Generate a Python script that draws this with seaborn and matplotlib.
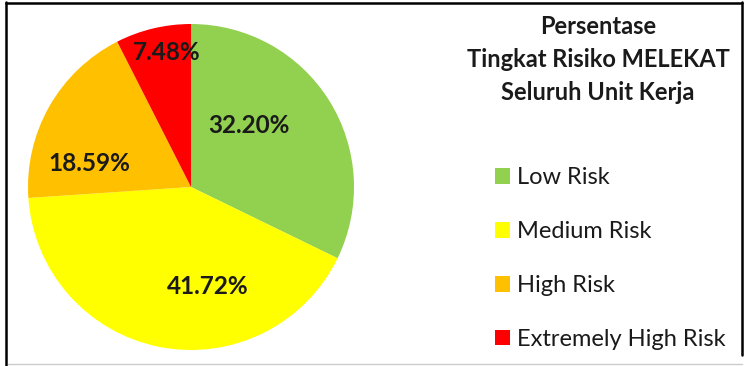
import matplotlib
matplotlib.use("Agg")
import matplotlib.pyplot as plt
import seaborn as sns
from matplotlib.lines import Line2D
from matplotlib.patches import Patch

categories = ["Low Risk", "Medium Risk", "High Risk", "Extremely High Risk"]
values = [32.20, 41.72, 18.59, 7.48]
colors = ["#92D050", "#FFFF00", "#FFC000", "#FF0000"]
title_lines = ["Persentase", "Tingkat Risiko MELEKAT", "Seluruh Unit Kerja"]

sns.set_theme(style="white")
plt.rcParams["font.family"] = ["Lato", "DejaVu Sans"]

fig = plt.figure(figsize=(7.46, 3.66), dpi=100)
fig.patch.set_facecolor("white")

# pie axes: centre (191,187) px, radius 163 px
W, H = 746, 366
cx, cy, r = 191, 187, 163
ax = fig.add_axes([(cx - r) / W, (H - cy - r) / H, 2 * r / W, 2 * r / H])

wedges, texts, autotexts = ax.pie(
    values, colors=colors, startangle=90, counterclock=False,
    autopct=lambda p: f"{p:.2f}%", pctdistance=0.6,
    wedgeprops=dict(linewidth=0),
    textprops=dict(fontsize=17.5, fontweight="bold", color="#1a1a1a"),
)
ax.set_xlim(-1, 1)
ax.set_ylim(-1, 1)
ax.set_aspect("equal")

# label placement (Excel-like best fit)
label_pos = [(0.356, 0.380), (0.104, -0.613), (-0.626, 0.147), (-0.150, 0.828)]
for t, pos in zip(autotexts, label_pos):
    t.set_position(pos)
    t.set_ha("center")
    t.set_va("center")

# title
fig.text(598 / W, 1 - 59.5 / H, "\n".join(title_lines), ha="center", va="center",
         fontsize=17, fontweight="bold", color="#1a1a1a", linespacing=1.5)

# legend
handles = [Patch(facecolor=c, edgecolor="none") for c in colors]
fig.legend(handles, categories, loc="upper left", bbox_to_anchor=(495 / W, 1 - 167.5 / H),
           frameon=False, fontsize=17, handlelength=0.64, handleheight=0.64,
           handletextpad=0.3, labelspacing=1.39, labelcolor="#1a1a1a",
           borderaxespad=0, borderpad=0)

# frame lines
fig.add_artist(Line2D([6 / W, 6 / W], [0, 1 - 2 / H], color="black", lw=1.8))
fig.add_artist(Line2D([6 / W, 742 / W], [1 - 2.5 / H, 1 - 2.5 / H], color="black", lw=1.8))
fig.add_artist(Line2D([742 / W, 742 / W], [1 - 2 / H, 0.03], color="black", lw=1.8))
fig.add_artist(Line2D([8 / W, 742 / W], [1 - 364 / H, 1 - 364 / H], color="#cccccc", lw=1))

fig.savefig("out.png", dpi=100, facecolor="white")
